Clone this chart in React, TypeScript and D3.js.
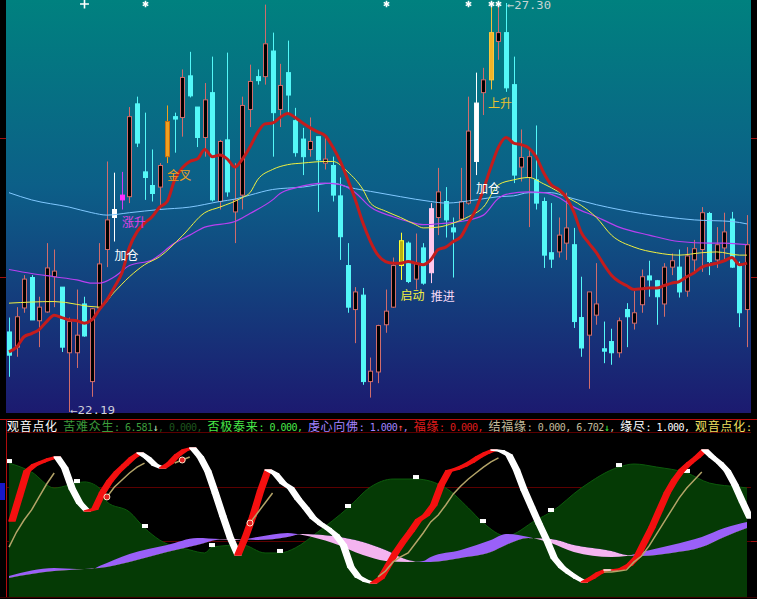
import React, { useEffect, useRef } from 'react';
import * as d3 from 'd3';

// 日K线: 开 / 收 / 高 / 低
const opens = [
  23.19, 23.00, 23.49, 23.87, 23.33, 23.44, 23.88, 23.75, 22.93, 22.93,
  23.54, 22.57, 23.49, 24.22, 24.62, 24.84, 24.88, 26.04, 25.19, 25.02,
  25.00, 25.38, 25.88, 25.87, 26.39, 26.00, 25.62, 26.18, 24.82, 25.59,
  24.69, 24.90, 25.97, 26.38, 26.38, 26.70, 25.97, 26.43, 25.83, 25.60,
  25.47, 25.63, 25.30, 25.27, 24.89, 24.02, 23.47, 23.65, 22.57, 22.69,
  23.28, 23.50, 24.02, 24.30, 23.85, 24.24, 23.93, 24.62, 24.82, 24.49,
  24.60, 24.80, 25.32, 26.18, 26.34, 26.82, 26.93, 26.28, 25.25, 25.12,
  25.09, 24.82, 24.18, 24.19, 24.30, 24.28, 23.37, 23.15, 23.40, 22.98,
  23.07, 22.93, 23.47, 23.30, 23.53, 23.89, 23.83, 23.54, 24.00, 24.00,
  23.70, 24.09, 24.22, 24.67, 24.09, 24.24, 24.60, 24.03, 23.47,
];
const closes = [
  22.90, 23.38, 23.85, 23.34, 23.50, 23.99, 23.95, 23.00, 23.32, 23.15,
  23.14, 23.48, 24.04, 24.59, 24.72, 24.90, 25.88, 25.55, 25.12, 24.92,
  25.27, 25.82, 25.85, 26.37, 26.14, 25.62, 26.09, 24.84, 25.57, 24.94,
  24.84, 26.02, 26.32, 26.33, 26.79, 25.93, 26.27, 26.15, 25.43, 25.38,
  25.57, 25.34, 25.35, 24.90, 24.38, 23.50, 23.69, 22.57, 22.70, 23.27,
  23.45, 24.02, 24.33, 23.82, 24.04, 23.80, 24.73, 24.94, 24.59, 24.44,
  24.82, 25.70, 26.05, 26.34, 26.93, 26.93, 26.24, 25.15, 25.37, 25.38,
  24.80, 24.15, 24.10, 24.40, 24.49, 23.32, 22.99, 23.69, 23.54, 22.95,
  22.93, 23.33, 23.38, 23.43, 23.88, 23.84, 23.63, 24.00, 24.08, 23.69,
  24.14, 24.23, 24.68, 24.07, 24.28, 24.44, 24.00, 23.43, 24.28,
];
const highs = [
  23.37, 23.50, 23.90, 23.90, 23.63, 24.30, 24.22, 23.75, 23.37, 23.72,
  23.63, 23.49, 24.30, 25.32, 25.18, 25.19, 26.00, 26.13, 25.93, 25.47,
  25.30, 26.02, 25.93, 26.47, 26.69, 26.00, 26.30, 26.63, 25.59, 26.68,
  25.30, 26.13, 26.53, 26.47, 27.28, 26.93, 26.54, 26.83, 25.99, 25.74,
  25.87, 25.63, 25.62, 25.38, 25.12, 24.30, 23.75, 23.74, 22.87, 23.28,
  23.72, 24.12, 24.43, 24.32, 24.42, 24.30, 24.80, 25.24, 25.00, 24.62,
  25.24, 26.13, 26.43, 26.49, 27.25, 27.25, 27.30, 26.63, 25.72, 25.50,
  25.77, 24.87, 24.80, 24.62, 24.93, 24.49, 23.88, 23.69, 24.05, 23.32,
  23.23, 23.37, 23.55, 23.70, 23.97, 24.08, 23.84, 24.05, 24.17, 24.22,
  24.25, 24.34, 24.75, 24.69, 24.50, 24.68, 24.69, 24.07, 24.65,
];
const lows = [
  22.63, 22.88, 23.43, 23.34, 23.00, 23.43, 23.50, 22.94, 22.19, 22.74,
  23.13, 22.38, 23.47, 24.00, 24.32, 24.72, 24.80, 25.50, 24.84, 24.82,
  24.72, 25.30, 25.43, 25.63, 26.12, 25.50, 25.38, 24.82, 24.72, 24.88,
  24.30, 24.72, 25.75, 26.28, 26.28, 25.38, 25.75, 25.90, 25.38, 25.15,
  25.38, 24.69, 25.22, 24.82, 24.09, 23.43, 23.05, 22.53, 22.37, 22.55,
  23.18, 23.49, 23.84, 23.80, 23.72, 23.78, 23.80, 24.40, 24.37, 23.87,
  24.59, 24.78, 25.15, 25.90, 26.22, 26.59, 26.19, 25.05, 25.07, 24.50,
  24.72, 23.99, 23.99, 24.12, 24.09, 23.24, 22.88, 22.48, 23.28, 22.80,
  22.78, 22.87, 23.00, 23.22, 23.43, 23.63, 23.28, 23.38, 23.90, 23.62,
  23.63, 23.94, 23.94, 23.90, 23.99, 24.09, 23.99, 23.25, 23.00,
];

// 红色粗均线 (每根K线一个值)
const redLine = [
  22.94, 23.00, 23.13, 23.17, 23.22, 23.32, 23.40, 23.37, 23.34, 23.33,
  23.30, 23.34, 23.47, 23.59, 23.75, 23.93, 24.25, 24.44, 24.55, 24.63,
  24.75, 24.82, 25.09, 25.24, 25.32, 25.35, 25.47, 25.38, 25.40, 25.35,
  25.25, 25.35, 25.50, 25.68, 25.79, 25.80, 25.87, 25.92, 25.87, 25.80,
  25.74, 25.69, 25.64, 25.50, 25.32, 25.09, 24.84, 24.55, 24.32, 24.15,
  24.07, 24.05, 24.05, 24.07, 24.05, 24.03, 24.09, 24.22, 24.25, 24.32,
  24.38, 24.55, 24.72, 24.97, 25.25, 25.50, 25.62, 25.55, 25.53, 25.49,
  25.38, 25.18, 25.03, 24.97, 24.87, 24.69, 24.43, 24.30, 24.18, 24.03,
  23.90, 23.82, 23.77, 23.72, 23.73, 23.74, 23.74, 23.77, 23.80, 23.82,
  23.88, 23.93, 24.00, 24.03, 24.05, 24.08, 24.12, 24.03, 24.05,
];

// 细均线, 按K线序号取样
const yellowIdx = [0, 6, 12, 14, 16, 18, 20, 23, 26, 28, 31, 32, 33, 35, 37, 39, 42, 43, 45, 47, 48, 50, 52, 54, 55, 57, 59, 61, 63, 65, 67, 69, 71, 73, 74, 76, 78, 80, 83, 86, 89, 92, 94, 97, 98];
const yellowVal = [23.55, 23.57, 23.50, 23.69, 23.88, 24.03, 24.13, 24.39, 24.68, 24.75, 24.87, 24.93, 25.09, 25.22, 25.28, 25.30, 25.32, 25.32, 25.19, 24.97, 24.80, 24.70, 24.62, 24.53, 24.49, 24.50, 24.55, 24.63, 24.75, 25.03, 25.09, 25.12, 25.04, 24.94, 24.88, 24.77, 24.62, 24.40, 24.25, 24.18, 24.15, 24.18, 24.19, 24.15, 24.15];
const purpleIdx = [0, 3, 6, 9, 11, 12, 14, 16, 19, 22, 24, 26, 30, 32, 35, 36, 38, 42, 44, 46, 48, 51, 53, 55, 58, 60, 63, 65, 66, 69, 71, 73, 75, 78, 81, 85, 89, 93, 95, 98];
const purpleVal = [23.97, 23.92, 23.88, 23.84, 23.80, 23.80, 23.88, 24.02, 24.09, 24.30, 24.40, 24.50, 24.57, 24.67, 24.84, 24.92, 24.99, 25.05, 25.03, 24.93, 24.75, 24.63, 24.57, 24.53, 24.55, 24.57, 24.65, 24.86, 24.91, 24.94, 24.93, 24.87, 24.75, 24.63, 24.50, 24.40, 24.32, 24.30, 24.30, 24.28];
const blueIdx = [0, 3, 8, 11, 13, 16, 20, 24, 28, 30, 32, 35, 39, 43, 45, 49, 52, 56, 58, 62, 65, 67, 69, 72, 74, 78, 81, 87, 91, 96, 98];
const blueVal = [24.93, 24.84, 24.75, 24.68, 24.65, 24.68, 24.72, 24.75, 24.82, 24.85, 24.90, 24.97, 25.00, 25.05, 25.00, 24.93, 24.88, 24.82, 24.80, 24.84, 24.88, 24.89, 24.93, 24.93, 24.88, 24.78, 24.72, 24.63, 24.59, 24.57, 24.54];

// 顶部提示符号
const topMarkIdx = [10, 18, 50, 61, 64, 65];

// 信号K线及文字
const signalLabels = [
  { text: '加仓', i: 14, price: 24.09, color: '#ffffff' },
  { text: '涨升', i: 15, price: 24.50, color: '#e040e8' },
  { text: '金叉', i: 21, price: 25.09, color: '#f0a020' },
  { text: '启动', i: 52, price: 23.59, color: '#f4f040' },
  { text: '推进', i: 56, price: 23.58, color: '#f4d8f4' },
  { text: '加仓', i: 62, price: 24.93, color: '#ffffff' },
  { text: '上升', i: 64, price: 25.99, color: '#e8c030' },
];

// 副图: 观音点化
const greenIdx = [0, 3, 6, 8, 9, 10, 12, 13, 16, 18, 20, 24, 26, 27, 31, 34, 36, 38, 41, 45, 48, 51, 54, 58, 61, 63, 66, 70, 72, 76, 81, 83, 86, 90, 93, 97, 98];
const greenVal = [83.1, 77.5, 67.5, 69.4, 70.6, 71.3, 67.5, 58.8, 52.5, 42.5, 35, 28.8, 26.9, 30.6, 31.9, 26.9, 26.9, 30, 40, 55, 68.1, 73.1, 73.1, 67.5, 55, 45.6, 37.5, 47.5, 52.5, 67.5, 80.6, 82.5, 80.6, 76.9, 70.6, 68.1, 67.5];
const greenMarkIdx = [0, 9, 18, 27, 36, 45, 54, 63, 72, 81, 90];

const ribbon = [
  46.9, 62.5, 78.1, 81.9, 83.8, 85.6, 86.9, 80, 66.9, 58.1,
  53.1, 54.4, 64.4, 71.9, 77.5, 81.9, 86.3, 89.4, 86.3, 81.9,
  80, 83.1, 88.1, 91.3, 92.5, 86.9, 78.1, 64.4, 50, 36.3,
  25.6, 36.9, 50, 65.6, 78.8, 76.3, 70.6, 67.5, 60.6, 55,
  48.8, 45, 41.9, 38.1, 31.9, 18.1, 11.9, 9.4, 8.1, 11.3,
  19.4, 27.5, 34.4, 40.6, 47.5, 50.6, 56.9, 69.4, 78.1, 79.4,
  81.3, 83.8, 86.9, 89.4, 91.3, 90.6, 88.1, 78.8, 66.3, 55.6,
  45, 35, 23.8, 18.1, 14.4, 11.3, 8.8, 11.3, 14.4, 16.3,
  16.3, 16.9, 19.4, 24.4, 33.8, 43.1, 53.8, 64.4, 72.5, 78.8,
  83.1, 86.9, 91.3, 86.9, 83.1, 78.1, 69.4, 58.8, 48.8,
];

const khakiIdx = [0, 1, 2, 3, 4, 5, 6, 13, 14, 15, 16, 17, 18, 22, 23, 24, 32, 33, 34, 35, 49, 50, 51, 52, 53, 54, 55, 56, 57, 58, 59, 60, 61, 62, 63, 64, 65, 79, 80, 81, 82, 83, 84, 85, 86, 87, 88, 89, 90, 91, 92];
const khakiVal = [30.6, 40, 47.5, 53.8, 61.9, 70, 76.9, 61.9, 68.1, 72.5, 76.9, 80.6, 83.1, 83.1, 85, 86.9, 45.6, 51.9, 58.1, 64.4, 11.9, 15.6, 21.3, 24.4, 26.9, 33.1, 39.4, 46.3, 50.6, 56.9, 63.8, 68.8, 73.1, 76.9, 80.6, 83.8, 86.3, 15, 15, 15.6, 16.3, 21.3, 25, 31.3, 38.8, 46.3, 53.8, 61.3, 67.5, 72.5, 77.5];
const circleIdx = [13, 23, 32];

const bandIdx = [0, 6, 9, 11, 12, 16, 21, 25, 28, 30, 33, 37, 39, 43, 47, 50, 53, 55, 56, 60, 64, 66, 69, 72, 75, 80, 82, 84, 88, 92, 95, 98];
const bandFast = [12.5, 17.5, 16.9, 16.9, 18.8, 26.3, 31.9, 36.3, 35.6, 35, 36.9, 39.4, 38.1, 33.1, 25.6, 21.9, 21.3, 21.9, 24.4, 28.8, 35, 38.8, 36.9, 33.1, 27.5, 24.4, 25, 27.5, 31.9, 36.9, 42.5, 46.3];
const bandSlow = [11.3, 15.6, 16.6, 17.2, 17.5, 21.3, 27.5, 31.9, 35.3, 35.6, 35, 36.9, 38.8, 37.5, 33.8, 28.8, 22.5, 21.3, 21.3, 23.8, 27.5, 31.9, 36.3, 35.6, 31.9, 28.1, 25.6, 25, 26.9, 30.6, 36.9, 42.5];
const lowerGrid = [34.4, 68.1];

// 副图标题
const header: [string, string][] = [
  ['观音点化 ', '#ffffff'],
  ['苦难众生: 6.581', '#3c9c3c'],
  ['↓', '#c8f0c8'],
  [', 0.000, ', '#1e561e'],
  ['否极泰来: 0.000, ', '#48e848'],
  ['虔心向佛: 1.000', '#a484ff'],
  ['↑', '#ff5050'],
  [', ', '#a484ff'],
  ['福缘: 0.000, ', '#e01c1c'],
  ['结福缘: 0.000, 6.702', '#c4bc9c'],
  ['↓', '#40ff40'],
  [', ', '#c4bc9c'],
  ['缘尽: 1.000, ', '#ffffff'],
  ['观音点化:', '#f0e060'],
];

const W = 757;
const H = 599;
const UP = '#d06c6c';
const DOWN = '#54f8f8';
const CJK = '"Noto Sans CJK SC", sans-serif';
const MONO = '"DejaVu Sans Mono", monospace';

const SIGNAL_STYLE: Record<number, { fill: string; stroke: string; wick: string }> = {
  14: { fill: '#ffffff', stroke: '#ffffff', wick: '#ffffff' },
  15: { fill: '#ff30ff', stroke: '#ff30ff', wick: '#d040f0' },
  21: { fill: '#f0a020', stroke: '#c87010', wick: '#f0a020' },
  52: { fill: '#b8b010', stroke: '#ffff30', wick: '#ffff30' },
  56: { fill: '#ffc8ec', stroke: '#ffc8ec', wick: '#ffc8ec' },
  62: { fill: '#ffffff', stroke: '#f8f8f8', wick: '#ffffff' },
  64: { fill: '#f0b428', stroke: '#f8c840', wick: '#f0c040' },
};

const App: React.FC = () => {
  const ref = useRef<SVGSVGElement | null>(null);

  useEffect(() => {
    if (!ref.current) return;
    const svg = d3.select(ref.current);
    svg.selectAll('*').remove();

    const idx = d3.range(opens.length);
    const x = d3.scalePoint<number>().domain(idx).range([9, 747]);
    const cx = (i: number) => Math.round(x(i) as number);
    const yP = d3.scaleLinear().domain([22.19, 27.30]).range([412, 3]);
    const yL = d3.scaleLinear().domain([0, 100]).range([596, 436]);

    const defs = svg.append('defs');
    const grad = defs.append('linearGradient')
      .attr('id', 'bgGrad').attr('x1', 0).attr('y1', 0).attr('x2', 0).attr('y2', 1);
    grad.append('stop').attr('offset', '0%').attr('stop-color', '#00817f');
    grad.append('stop').attr('offset', '45%').attr('stop-color', '#0c5f88');
    grad.append('stop').attr('offset', '100%').attr('stop-color', '#1c1a70');
    defs.append('clipPath').attr('id', 'upClip')
      .append('rect').attr('x', 6).attr('y', 0).attr('width', 745).attr('height', 413);
    defs.append('clipPath').attr('id', 'lowClip')
      .append('rect').attr('x', 7).attr('y', 433).attr('width', 744).attr('height', 164);

    // 紫/粉带的裁剪区 (慢线之上 / 之下)
    const bx = (j: number) => x(bandIdx[j]) as number;
    const bj = d3.range(bandIdx.length);
    const aboveSlow = d3.area<number>().x(bx).y0(420).y1(j => yL(bandSlow[j])).curve(d3.curveMonotoneX);
    const belowSlow = d3.area<number>().x(bx).y0(610).y1(j => yL(bandSlow[j])).curve(d3.curveMonotoneX);
    defs.append('clipPath').attr('id', 'aboveSlow').append('path').attr('d', aboveSlow(bj) as string);
    defs.append('clipPath').attr('id', 'belowSlow').append('path').attr('d', belowSlow(bj) as string);

    svg.append('rect').attr('width', W).attr('height', H).attr('fill', '#000');
    svg.append('rect').attr('x', 6).attr('y', 0).attr('width', 745).attr('height', 413).attr('fill', 'url(#bgGrad)');

    // 边框刻度
    [138, 277].forEach(y => {
      svg.append('line').attr('x1', 0).attr('x2', 6).attr('y1', y + 0.5).attr('y2', y + 0.5).attr('stroke', '#a01010');
      svg.append('line').attr('x1', 751).attr('x2', 757).attr('y1', y + 0.5).attr('y2', y + 0.5).attr('stroke', '#a01010');
    });

    const up = svg.append('g').attr('clip-path', 'url(#upClip)');

    // K线
    idx.forEach(i => {
      const o = opens[i], c = closes[i];
      const rise = c >= o;
      const sig = SIGNAL_STYLE[i];
      const col = rise ? UP : DOWN;
      const xc = cx(i) + 0.5;
      up.append('line')
        .attr('x1', xc).attr('x2', xc)
        .attr('y1', yP(highs[i])).attr('y2', yP(lows[i]))
        .attr('stroke', sig ? sig.wick : col).attr('stroke-width', 1);
      const top = yP(Math.max(o, c));
      const h = Math.max(1, Math.abs(yP(o) - yP(c)));
      up.append('rect')
        .attr('x', xc - 2).attr('y', top)
        .attr('width', 4).attr('height', h)
        .attr('fill', sig ? sig.fill : (rise ? '#000' : DOWN))
        .attr('stroke', sig ? sig.stroke : col).attr('stroke-width', 1);
    });

    // 均线
    const sampled = (ids: number[], vals: number[], color: string, w: number) => {
      const line = d3.line<number>()
        .x(j => x(ids[j]) as number).y(j => yP(vals[j]))
        .curve(d3.curveMonotoneX);
      up.append('path').attr('d', line(d3.range(ids.length)) as string)
        .attr('fill', 'none').attr('stroke', color).attr('stroke-width', w);
    };
    sampled(blueIdx, blueVal, '#80c8ff', 1);
    sampled(purpleIdx, purpleVal, '#b840f0', 1.2);
    sampled(yellowIdx, yellowVal, '#f0f040', 1);
    const redPath = d3.line<number>().x(i => x(i) as number).y(i => yP(redLine[i])).curve(d3.curveMonotoneX);
    up.append('path').attr('d', redPath(idx) as string)
      .attr('fill', 'none').attr('stroke', '#c41c1c').attr('stroke-width', 3).attr('stroke-linejoin', 'round');

    // 顶部符号
    const asterisk = (d3 as any).symbolAsterisk ?? d3.symbolStar;
    const plus = (d3 as any).symbolPlus ?? d3.symbolCross;
    topMarkIdx.forEach((i, k) => {
      up.append('path')
        .attr('d', d3.symbol().type(k === 0 ? plus : asterisk).size(28)() as string)
        .attr('transform', `translate(${cx(i) + 0.5},4)`)
        .attr('fill', '#ffffff').attr('stroke', '#ffffff').attr('stroke-width', 1.6);
    });

    // 信号文字
    signalLabels.forEach(s => {
      up.append('text')
        .attr('x', (x(s.i) as number) + (s.i === 64 ? -3 : 0)).attr('y', yP(s.price))
        .attr('fill', s.color).attr('font-family', CJK).attr('font-size', 12)
        .text(s.text);
    });

    // 最高/最低价标注
    svg.append('text').attr('x', cx(66) + 1).attr('y', 9)
      .attr('fill', '#c8d4d4').attr('font-family', MONO).attr('font-size', 11)
      .attr('textLength', 44).attr('lengthAdjust', 'spacingAndGlyphs').text('←27.30');
    svg.append('text').attr('x', cx(8) + 1).attr('y', 414)
      .attr('fill', '#d0d0d8').attr('font-family', MONO).attr('font-size', 10.5)
      .attr('textLength', 45).attr('lengthAdjust', 'spacingAndGlyphs').text('←22.19');

    // 副图边框
    svg.append('line').attr('x1', 0).attr('x2', W).attr('y1', 419.5).attr('y2', 419.5).attr('stroke', '#b80c0c');
    svg.append('line').attr('x1', 6).attr('x2', 751).attr('y1', 432.5).attr('y2', 432.5).attr('stroke', '#5a0000');
    svg.append('line').attr('x1', 6.5).attr('x2', 6.5).attr('y1', 419).attr('y2', 597).attr('stroke', '#b00c0c');
    svg.append('rect').attr('x', 0).attr('y', 483).attr('width', 5).attr('height', 17).attr('fill', '#1818c8');
    svg.append('line').attr('x1', 751).attr('x2', 757).attr('y1', 541.5).attr('y2', 541.5).attr('stroke', '#a01010');
    svg.append('line').attr('x1', 0).attr('x2', W).attr('y1', 597.5).attr('y2', 597.5).attr('stroke', '#3a0000');

    // 标题行: 一个 text, 每字单独定位 (汉字宽 12.7, 半角宽 5.5)
    const headText = svg.append('text').attr('y', 431).style('white-space', 'pre');
    let cursor = 7;
    header.forEach(([txt, color]) => {
      const runs: { s: string; cjk: boolean }[] = [];
      for (const ch of txt) {
        const cjk = /[\u3400-\u9fff]/.test(ch);
        const last = runs[runs.length - 1];
        if (last && last.cjk === cjk) last.s += ch;
        else runs.push({ s: ch, cjk });
      }
      runs.forEach(r => {
        const cw = r.cjk ? 12.7 : 5.5;
        const chars = Array.from(r.s);
        const pos = chars.map((_, k) => (cursor + k * cw).toFixed(1));
        headText.append('tspan')
          .attr('x', pos.join(' ')).attr('y', 431)
          .attr('fill', color)
          .attr('font-family', r.cjk ? CJK : MONO)
          .attr('font-size', r.cjk ? 12 : 10)
          .text(r.s);
        cursor += chars.length * cw;
      });
    });

    const low = svg.append('g').attr('clip-path', 'url(#lowClip)');

    lowerGrid.forEach(v => {
      low.append('line').attr('x1', 6).attr('x2', 751)
        .attr('y1', Math.round(yL(v)) + 0.5).attr('y2', Math.round(yL(v)) + 0.5)
        .attr('stroke', '#5c0000');
    });

    // 绿色山形
    const gx = (j: number) => x(greenIdx[j]) as number;
    const greenArea = d3.area<number>().x(gx).y0(598).y1(j => yL(greenVal[j])).curve(d3.curveMonotoneX);
    const gj = d3.range(greenIdx.length);
    low.append('path').attr('d', greenArea(gj) as string).attr('fill', '#053a05');
    low.append('path')
      .attr('d', d3.line<number>().x(gx).y(j => yL(greenVal[j])).curve(d3.curveMonotoneX)(gj) as string)
      .attr('fill', 'none').attr('stroke', '#0c5a0c').attr('stroke-width', 1);
    greenMarkIdx.forEach(i => {
      const v = greenVal[greenIdx.indexOf(i)];
      low.append('rect').attr('x', cx(i) - 3).attr('y', yL(v) - 4)
        .attr('width', 6).attr('height', 4).attr('fill', '#ffffff');
    });

    // 紫/粉带
    const band = d3.area<number>().x(bx)
      .y0(j => yL(bandSlow[j])).y1(j => yL(bandFast[j])).curve(d3.curveMonotoneX);
    low.append('path').attr('d', band(bj) as string).attr('fill', '#9a60f8').attr('clip-path', 'url(#aboveSlow)');
    low.append('path').attr('d', band(bj) as string).attr('fill', '#f4b4f0').attr('clip-path', 'url(#belowSlow)');

    // 红/白飘带
    const off = 6;
    for (let i = 1; i < ribbon.length; i++) {
      const x0 = x(i - 1) as number, x1 = x(i) as number;
      const y0 = yL(ribbon[i - 1]), y1 = yL(ribbon[i]);
      const col = ribbon[i] > ribbon[i - 1] ? '#f41010' : '#ffffff';
      low.append('path')
        .attr('d', `M${x0},${y0}L${x1},${y1}L${x1 + off},${y1}L${x0 + off},${y0}Z`)
        .attr('fill', col).attr('stroke', col).attr('stroke-width', 1.5).attr('stroke-linejoin', 'round');
    }

    // 黄褐线
    const khakiFull: (number | null)[] = idx.map(() => null);
    khakiIdx.forEach((i, k) => { khakiFull[i] = khakiVal[k]; });
    const khakiLine = d3.line<number>()
      .defined(i => khakiFull[i] != null)
      .x(i => x(i) as number).y(i => yL(khakiFull[i] as number));
    low.append('path').attr('d', khakiLine(idx) as string)
      .attr('fill', 'none').attr('stroke', '#b4a468').attr('stroke-width', 1.5);

    circleIdx.forEach(i => {
      low.append('circle').attr('cx', x(i) as number).attr('cy', yL(khakiFull[i] as number))
        .attr('r', 3).attr('fill', '#e02020').attr('stroke', '#ffe4c8').attr('stroke-width', 1);
    });
  }, []);

  return (
    <svg ref={ref} width={W} height={H}
      style={{ position: 'absolute', left: 0, top: 0, display: 'block' }} />
  );
};

export default App;
